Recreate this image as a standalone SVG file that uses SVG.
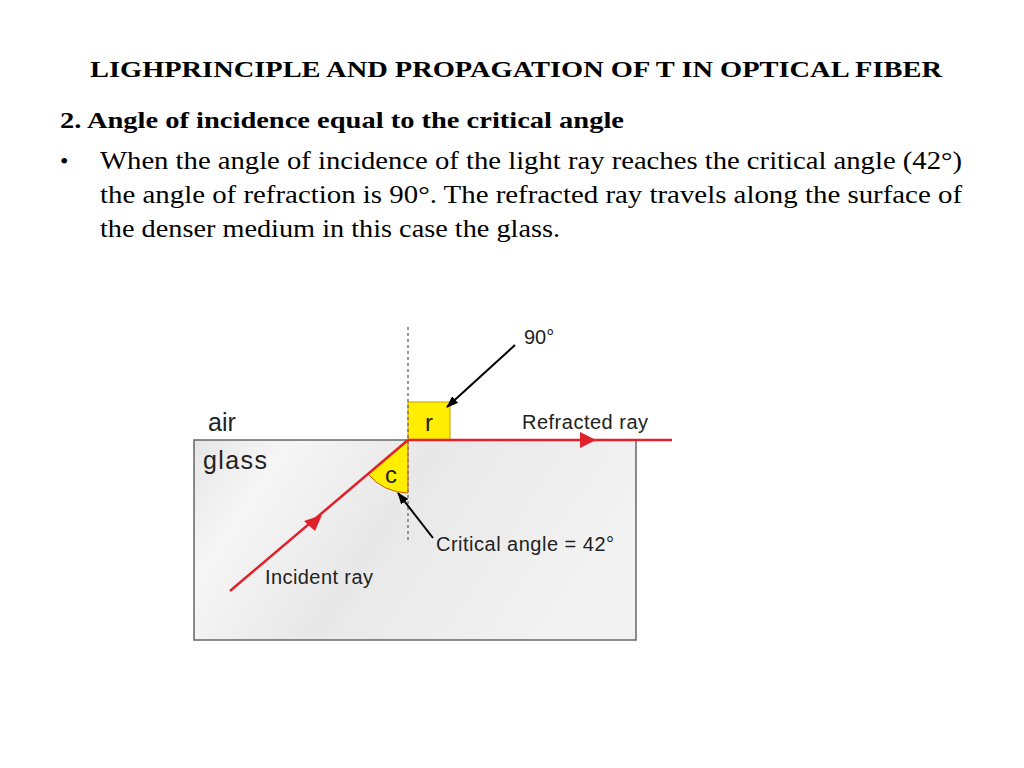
<svg xmlns="http://www.w3.org/2000/svg" width="1024" height="768" viewBox="0 0 1024 768">
<style>
.t{font-family:"Liberation Serif",serif;fill:#000}
.s{font-family:"Liberation Sans",Arial,sans-serif;fill:#222}
</style>
<defs>
<marker id="blk" markerWidth="12" markerHeight="9" refX="11" refY="4.5" orient="auto" markerUnits="userSpaceOnUse"><path d="M0,0L12,4.5L0,9z" fill="#000"/></marker>
<linearGradient id="g" x1="0" y1="0" x2="1" y2="0.3"><stop offset="0" stop-color="#e6e6e6"/><stop offset="0.2" stop-color="#f6f6f6"/><stop offset="0.5" stop-color="#e8e8e8"/><stop offset="1" stop-color="#f2f2f2"/></linearGradient>
</defs>
<rect width="1024" height="768" fill="#fff"/>
<text class="t" x="90" y="77" font-size="24" font-weight="bold" textLength="852" lengthAdjust="spacingAndGlyphs">LIGHPRINCIPLE AND PROPAGATION OF T IN OPTICAL FIBER</text>
<text class="t" x="60" y="128" font-size="24" font-weight="bold" textLength="564" lengthAdjust="spacingAndGlyphs">2. Angle of incidence equal to the critical angle</text>
<text class="t" x="60" y="169" font-size="24">•</text>
<text class="t" x="100" y="169" font-size="25" textLength="862" lengthAdjust="spacingAndGlyphs">When the angle of incidence of the light ray reaches the critical angle (42°)</text>
<text class="t" x="100" y="203" font-size="25" textLength="862" lengthAdjust="spacingAndGlyphs">the angle of refraction is 90°. The refracted ray travels along the surface of</text>
<text class="t" x="100" y="237" font-size="25" textLength="460" lengthAdjust="spacingAndGlyphs">the denser medium in this case the glass.</text>
<g id="glass"><rect x="194" y="440" width="442" height="200" fill="url(#g)" stroke="#666" stroke-width="1.5"/></g>
<g id="angles">
<rect x="408" y="402" width="42" height="38" fill="#ffee00" stroke="#c8a000" stroke-width="1"/>
<path d="M408,440 L368,474 A52,52 0 0 0 408,493 Z" fill="#ffee00" stroke="#c86000" stroke-width="1"/>
<text class="s" x="429" y="431" font-size="24" text-anchor="middle">r</text>
<text class="s" x="391" y="483" font-size="24" text-anchor="middle">c</text>
</g>
<g id="connectors">
<line x1="408" y1="327" x2="408" y2="540" stroke="#777" stroke-width="1.5" stroke-dasharray="3,3"/>
<line x1="230" y1="591" x2="408" y2="440" stroke="#e0202a" stroke-width="2.5"/>
<line x1="408" y1="440" x2="672" y2="440" stroke="#e0202a" stroke-width="2.5"/>
<path d="M580,432 L596,440 L580,448 z" fill="#e0202a"/>
<path d="M304,521 L322,515 L315,531 z" fill="#e0202a"/>
<line x1="515" y1="345" x2="447" y2="407" stroke="#000" stroke-width="2" marker-end="url(#blk)"/>
<line x1="433" y1="538" x2="398" y2="493" stroke="#000" stroke-width="2" marker-end="url(#blk)"/>
</g>
<g id="labels">
<text class="s" x="208" y="431" font-size="25">air</text>
<text class="s" x="203" y="469" font-size="25" textLength="64">glass</text>
<text class="s" x="524" y="344" font-size="20">90°</text>
<text class="s" x="522" y="429" font-size="20" textLength="126">Refracted ray</text>
<text class="s" x="436" y="551" font-size="20" textLength="178">Critical angle = 42°</text>
<text class="s" x="265" y="584" font-size="20" textLength="108">Incident ray</text>
</g>
</svg>
